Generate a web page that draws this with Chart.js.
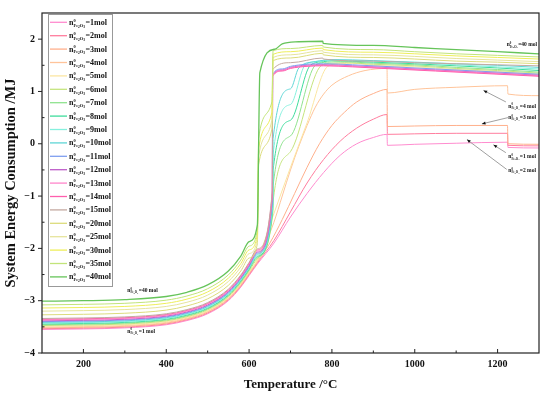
<!DOCTYPE html>
<html>
<head>
<meta charset="utf-8">
<script src="https://cdn.jsdelivr.net/npm/chart.js@4.4.1/dist/chart.umd.min.js"></script>
<style>
  html, body { margin: 0; background: #fff; }
  #wrap { width: 550px; height: 396px; }
</style>
</head>
<body>
<div id="wrap"><canvas id="chart"></canvas></div>
<script>
/* data: temperature (°C) and system energy (MJ) */
const molAmounts = [1, 2, 3, 4, 5, 6, 7, 8, 9, 10, 11, 12, 13, 14, 15, 20, 25, 30, 35, 40];
const lowT = [100, 200, 300, 400, 450, 500, 550, 580, 600, 620];

const t1 = [...lowT, 660, 700, 740, 780, 820, 860, 900, 933, 934, 1000, 1100, 1224, 1225, 1300];
const e1 = [-3.55, -3.54, -3.52, -3.46, -3.38, -3.25, -3.0, -2.74, -2.52, -2.3, -1.9, -1.4, -0.95, -0.55, -0.22, 0.0, 0.12, 0.18, -0.03, -0.01, 0.01, 0.03, -0.07, -0.08];
const t2 = [...lowT, 660, 700, 740, 780, 820, 860, 900, 933, 934, 1000, 1100, 1224, 1225, 1300];
const e2 = [-3.535, -3.525, -3.505, -3.445, -3.365, -3.235, -2.984, -2.724, -2.502, -2.279, -1.85, -1.3, -0.75, -0.3, 0.05, 0.3, 0.47, 0.56, 0.18, 0.19, 0.2, 0.2, -0.03, -0.04];
const t3 = [...lowT, 650, 680, 710, 740, 770, 800, 830, 860, 900, 933, 934, 1000, 1100, 1224, 1225, 1300];
const e3 = [-3.52, -3.51, -3.49, -3.43, -3.35, -3.219, -2.968, -2.707, -2.484, -2.258, -1.9, -1.45, -0.95, -0.45, 0.0, 0.35, 0.6, 0.8, 0.96, 1.04, 0.33, 0.34, 0.35, 0.35, 0.0, -0.01];
const t4 = [...lowT, 640, 660, 680, 700, 720, 740, 760, 780, 800, 840, 880, 933, 934, 1000, 1100, 1224, 1225, 1300];
const e4 = [-3.505, -3.495, -3.475, -3.415, -3.335, -3.204, -2.953, -2.69, -2.466, -2.237, -1.9, -1.5, -1.0, -0.5, -0.05, 0.35, 0.7, 0.95, 1.12, 1.3, 1.4, 1.44, 0.97, 1.04, 1.08, 1.11, 0.95, 0.92];
const t5 = [...lowT, 657, 700, 740, 790, 820, 850, 900, 1000, 1100, 1200, 1300];
const e5 = [-3.49, -3.48, -3.46, -3.4, -3.32, -3.189, -2.937, -2.674, -2.448, -2.217, -1.4, -0.45, 0.4, 1.48, 1.53, 1.54, 1.5, 1.47, 1.42, 1.38, 1.33];
const t6 = [...lowT, 657, 658, 700, 775, 800, 830, 900, 1000, 1100, 1200, 1300];
const e6 = [-3.475, -3.465, -3.445, -3.385, -3.305, -3.173, -2.921, -2.657, -2.43, -2.196, -1.35, -1.1, -0.15, 1.5, 1.54, 1.55, 1.52, 1.49, 1.44, 1.4, 1.35];
const t7 = [...lowT, 657, 658, 700, 760, 790, 820, 900, 1000, 1100, 1200, 1300];
const e7 = [-3.46, -3.45, -3.43, -3.37, -3.29, -3.158, -2.905, -2.641, -2.412, -2.175, -1.3, -0.8, 0.15, 1.5, 1.56, 1.57, 1.54, 1.51, 1.46, 1.42, 1.37];
const t8 = [...lowT, 657, 658, 700, 748, 780, 800, 900, 1000, 1100, 1200, 1300];
const e8 = [-3.445, -3.435, -3.415, -3.355, -3.275, -3.143, -2.89, -2.624, -2.394, -2.154, -1.25, -0.5, 0.45, 1.5, 1.57, 1.59, 1.56, 1.53, 1.49, 1.45, 1.4];
const t9 = [...lowT, 657, 658, 700, 735, 770, 800, 900, 1000, 1100, 1200, 1300];
const e9 = [-3.43, -3.42, -3.4, -3.34, -3.26, -3.128, -2.874, -2.608, -2.376, -2.133, -1.2, -0.2, 0.75, 1.5, 1.58, 1.6, 1.58, 1.55, 1.51, 1.47, 1.43];
const t10 = [...lowT, 657, 658, 700, 720, 760, 800, 900, 1000, 1100, 1200, 1300];
const e10 = [-3.415, -3.405, -3.385, -3.325, -3.245, -3.112, -2.858, -2.591, -2.358, -2.112, -1.15, 0.1, 1.05, 1.45, 1.57, 1.61, 1.59, 1.56, 1.53, 1.5, 1.46];
const t11 = [...lowT, 656, 657, 680, 700, 740, 780, 850, 950, 1050, 1150, 1300];
const e11 = [-3.4, -3.39, -3.37, -3.31, -3.23, -3.097, -2.842, -2.575, -2.34, -2.091, -1.1, 1.33, 1.43, 1.48, 1.52, 1.53, 1.51, 1.47, 1.43, 1.39, 1.33];
const t12 = [...lowT, 656, 657, 680, 700, 740, 780, 850, 950, 1050, 1150, 1300];
const e12 = [-3.385, -3.375, -3.355, -3.295, -3.215, -3.082, -2.827, -2.558, -2.322, -2.071, -1.05, 1.31, 1.41, 1.46, 1.5, 1.51, 1.49, 1.45, 1.41, 1.37, 1.31];
const t13 = [...lowT, 656, 657, 680, 700, 740, 780, 850, 950, 1050, 1150, 1300];
const e13 = [-3.37, -3.36, -3.34, -3.28, -3.2, -3.066, -2.811, -2.542, -2.304, -2.05, -1.0, 1.3, 1.4, 1.45, 1.49, 1.5, 1.48, 1.44, 1.4, 1.36, 1.3];
const t14 = [...lowT, 656, 657, 680, 700, 740, 780, 850, 950, 1050, 1150, 1300];
const e14 = [-3.355, -3.345, -3.325, -3.265, -3.185, -3.051, -2.795, -2.525, -2.286, -2.029, -0.95, 1.29, 1.39, 1.44, 1.48, 1.49, 1.47, 1.43, 1.39, 1.35, 1.29];
const t15 = [...lowT, 656, 657, 700, 778, 779, 900, 1000, 1100, 1200, 1300];
const e15 = [-3.34, -3.33, -3.31, -3.25, -3.17, -3.036, -2.779, -2.509, -2.268, -2.008, -0.9, 1.42, 1.55, 1.64, 1.62, 1.58, 1.55, 1.53, 1.51, 1.49];
const t20 = [...lowT, 623, 655, 658, 700, 778, 779, 900, 1000, 1100, 1200, 1300];
const e20 = [-3.27, -3.26, -3.24, -3.18, -3.1, -2.964, -2.706, -2.432, -2.184, -1.911, -0.4, 0.28, 1.59, 1.64, 1.73, 1.7, 1.65, 1.62, 1.58, 1.56, 1.53];
const t25 = [...lowT, 623, 655, 658, 700, 778, 779, 900, 1000, 1100, 1200, 1300];
const e25 = [-3.2, -3.19, -3.17, -3.11, -3.03, -2.893, -2.632, -2.355, -2.1, -1.813, -0.25, 0.45, 1.65, 1.7, 1.78, 1.75, 1.7, 1.67, 1.63, 1.6, 1.57];
const t30 = [...lowT, 623, 655, 658, 700, 778, 779, 900, 1000, 1100, 1200, 1300];
const e30 = [-3.14, -3.13, -3.11, -3.05, -2.97, -2.832, -2.569, -2.289, -2.028, -1.73, -0.1, 0.6, 1.71, 1.76, 1.83, 1.8, 1.75, 1.72, 1.68, 1.65, 1.62];
const t35 = [...lowT, 623, 655, 658, 700, 778, 779, 900, 1000, 1100, 1200, 1300];
const e35 = [-3.08, -3.07, -3.05, -2.99, -2.91, -2.771, -2.506, -2.223, -1.956, -1.647, 0.1, 0.8, 1.78, 1.82, 1.88, 1.85, 1.8, 1.76, 1.72, 1.69, 1.66];
const t40 = [...lowT, 626, 663, 680, 720, 778, 779, 900, 1000, 1100, 1200, 1300];
const e40 = [-3.01, -3.0, -2.98, -2.92, -2.84, -2.699, -2.433, -2.146, -1.872, -1.549, 1.36, 1.81, 1.91, 1.95, 1.96, 1.92, 1.88, 1.84, 1.8, 1.76, 1.72];

const seriesT = [t1, t2, t3, t4, t5, t6, t7, t8, t9, t10, t11, t12, t13, t14, t15, t20, t25, t30, t35, t40];
const seriesE = [e1, e2, e3, e4, e5, e6, e7, e8, e9, e10, e11, e12, e13, e14, e15, e20, e25, e30, e35, e40];

// axis ticks
const xMajor = [200, 400, 600, 800, 1000, 1200];
const xMinor = [300, 500, 700, 900, 1100];
const yMajor = [-4, -3, -2, -1, 0, 1, 2];
const yMinor = [-3.5, -2.5, -1.5, -0.5, 0.5, 1.5];

// annotations (data units)
const noteText = ['=40 mol', '=40 mol', '=1 mol', '=4 mol', '=3 mol', '=1 mol', '=2 mol'];
const noteT = [1222, 306, 306, 1226, 1226, 1226, 1226];
const noteE = [1.86, -2.83, -3.61, 0.69, 0.47, -0.28, -0.54];
const arrowFromT = [1220, 1225, 1220, 1222];
const arrowFromE = [0.8, 0.5, -0.17, -0.49];
const arrowToT = [1166, 1162, 1190, 1126];
const arrowToE = [1.02, 0.38, -0.02, 0.08];

const lineColors = ['#ff8ccf', '#ff7d9e', '#ffb08c', '#ffc49a', '#fbe6a2', '#c5e47e', '#8fe38f', '#3fdc9c',
  '#86f0de', '#5fd6d6', '#7f9ff0', '#bd5cc9', '#ff86cb', '#ff5fae', '#c4a9a1', '#dcdc7c',
  '#e6e49c', '#eeee5a', '#c2e47a', '#66c45a'];

const SERIF = '"Liberation Serif", "Times New Roman", serif';

/* n^0 with Fe2O3 subscript */
function drawNLabel(ctx, x, y, size, suffix) {
  ctx.textAlign = 'left';
  ctx.textBaseline = 'alphabetic';
  ctx.font = `bold ${size}px ${SERIF}`;
  ctx.fillText('n', x, y);
  let cx = x + ctx.measureText('n').width;
  const small = size * 0.55;
  const tiny = small * 0.8;
  ctx.font = `bold ${small}px ${SERIF}`;
  ctx.fillText('0', cx, y - size * 0.4);
  const subY = y + size * 0.22;
  const parts = [['Fe', small, 0], ['2', tiny, tiny * 0.3], ['O', small, 0], ['3', tiny, tiny * 0.3]];
  parts.forEach(([s, fs, dy]) => {
    ctx.font = `bold ${fs}px ${SERIF}`;
    ctx.fillText(s, cx, subY + dy);
    cx += ctx.measureText(s).width;
  });
  ctx.font = `bold ${size}px ${SERIF}`;
  ctx.fillText(suffix, cx + 0.5, y);
}

const framePlugin = {
  id: 'frame',
  afterDatasetsDraw(chart) {
    const { ctx, chartArea: a, scales: { x, y } } = chart;
    ctx.save();
    ctx.strokeStyle = '#222';
    ctx.lineWidth = 1.2;
    ctx.strokeRect(a.left, a.top, a.right - a.left, a.bottom - a.top);
    ctx.lineWidth = 1;
    ctx.beginPath();
    xMajor.forEach(v => { const p = x.getPixelForValue(v); ctx.moveTo(p, a.bottom); ctx.lineTo(p, a.bottom - 4); });
    xMinor.forEach(v => { const p = x.getPixelForValue(v); ctx.moveTo(p, a.bottom); ctx.lineTo(p, a.bottom - 2.5); });
    yMajor.forEach(v => { const p = y.getPixelForValue(v); ctx.moveTo(a.left, p); ctx.lineTo(a.left - 4, p); });
    yMinor.forEach(v => { const p = y.getPixelForValue(v); ctx.moveTo(a.left, p); ctx.lineTo(a.left + 2.5, p); });
    ctx.stroke();

    // legend box
    const lx = 48, ly = 14.5, lw = 64, lh = 272;
    ctx.fillStyle = '#fff';
    ctx.fillRect(lx, ly, lw, lh);
    ctx.strokeStyle = '#999';
    ctx.lineWidth = 1;
    ctx.strokeRect(lx + 0.5, ly, lw, lh);
    molAmounts.forEach((n, i) => {
      const yy = 22.3 + i * 13.4;
      ctx.strokeStyle = lineColors[i];
      ctx.lineWidth = 1.3;
      ctx.beginPath();
      ctx.moveTo(50, yy);
      ctx.lineTo(67, yy);
      ctx.stroke();
      ctx.fillStyle = '#111';
      drawNLabel(ctx, 69, yy + 2.5, 8, '=' + n + 'mol');
    });

    // annotations
    ctx.fillStyle = '#111';
    noteText.forEach((s, i) => {
      drawNLabel(ctx, x.getPixelForValue(noteT[i]), y.getPixelForValue(noteE[i]), 5.5, s);
    });
    arrowFromT.forEach((t, i) => {
      const x1 = x.getPixelForValue(t), y1 = y.getPixelForValue(arrowFromE[i]);
      const x2 = x.getPixelForValue(arrowToT[i]), y2 = y.getPixelForValue(arrowToE[i]);
      ctx.strokeStyle = '#888';
      ctx.lineWidth = 0.8;
      ctx.beginPath();
      ctx.moveTo(x1, y1);
      ctx.lineTo(x2, y2);
      ctx.stroke();
      const ang = Math.atan2(y2 - y1, x2 - x1);
      ctx.fillStyle = '#111';
      ctx.beginPath();
      ctx.moveTo(x2, y2);
      ctx.lineTo(x2 - 4 * Math.cos(ang - 0.4), y2 - 4 * Math.sin(ang - 0.4));
      ctx.lineTo(x2 - 4 * Math.cos(ang + 0.4), y2 - 4 * Math.sin(ang + 0.4));
      ctx.closePath();
      ctx.fill();
    });
    ctx.restore();
  }
};

const datasets = molAmounts.map((n, i) => ({
  label: n + ' mol',
  data: seriesT[i].map((t, j) => ({ x: t, y: seriesE[i][j] })),
  borderColor: lineColors[i],
  borderWidth: i === molAmounts.length - 1 ? 1.3 : 1,
  pointRadius: 0,
  cubicInterpolationMode: 'monotone',
  fill: false,
  order: molAmounts.length - i
}));

new Chart(document.getElementById('chart'), {
  type: 'line',
  data: { datasets },
  options: {
    responsive: true,
    maintainAspectRatio: false,
    animation: false,
    layout: { padding: { left: 0, right: 11, top: 12, bottom: 0 } },
    plugins: { legend: { display: false }, tooltip: { enabled: false } },
    scales: {
      x: {
        type: 'linear',
        min: 100,
        max: 1300,
        afterBuildTicks: (scale) => { scale.ticks = xMajor.map(v => ({ value: v })); },
        afterFit: (scale) => { scale.height = 43; },
        grid: { display: false, drawTicks: false },
        border: { display: false },
        ticks: { color: '#111', padding: 5, maxRotation: 0, font: { family: SERIF, size: 10, weight: 'bold' },
          callback: (v) => String(v) },
        title: { display: true, text: 'Temperature /°C', color: '#111', padding: { top: 0, bottom: 4 },
          font: { family: SERIF, size: 13, weight: 'bold' } }
      },
      y: {
        min: -4,
        max: 2.5,
        afterBuildTicks: (scale) => { scale.ticks = yMajor.map(v => ({ value: v })); },
        afterFit: (scale) => { scale.width = 42; },
        grid: { display: false, drawTicks: false },
        border: { display: false },
        ticks: { color: '#111', padding: 7, font: { family: SERIF, size: 10, weight: 'bold' },
          callback: (v) => (v < 0 ? '\u2212' + Math.abs(v) : String(v)) },
        title: { display: true, text: 'System Energy Consumption /MJ', color: '#111', padding: { top: 3, bottom: 0 },
          font: { family: SERIF, size: 14.5, weight: 'bold' } }
      }
    }
  },
  plugins: [framePlugin]
});
</script>
</body>
</html>
